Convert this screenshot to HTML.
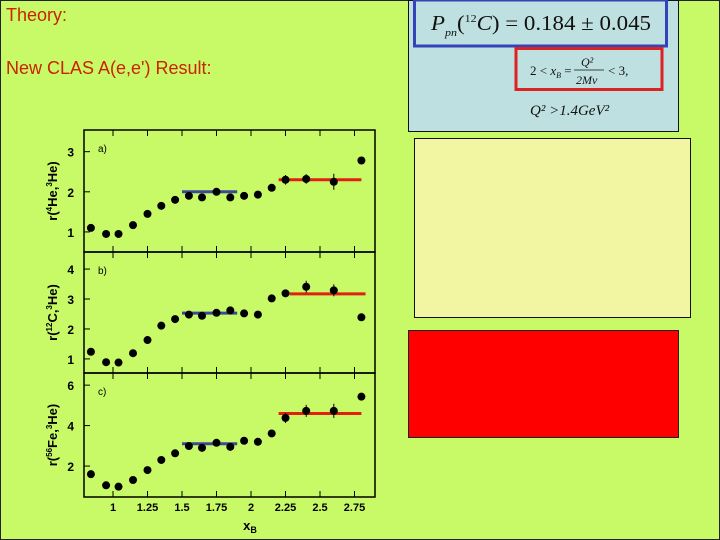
<!DOCTYPE html>
<html><head><meta charset="utf-8"><style>
html,body{margin:0;padding:0}
body{width:720px;height:540px;overflow:hidden;background:#ccff66;font-family:"Liberation Sans",sans-serif}
svg{display:block}
</style></head><body>
<svg width="720" height="540" xmlns="http://www.w3.org/2000/svg">
<rect x="0.5" y="0.5" width="719" height="539" fill="#c8fa68" stroke="#222"/>
<text x="6" y="21" font-size="18" fill="#cc2200" font-family="Liberation Sans, sans-serif">Theory:</text>
<text x="6" y="74" font-size="18" fill="#cc2200" font-family="Liberation Sans, sans-serif">New CLAS A(e,e') Result:</text>
<g>
<rect x="408.5" y="0.5" width="270" height="131" fill="#bfe0e0" stroke="#111"/>
<rect x="414.5" y="0" width="252" height="46" fill="none" stroke="#3344bb" stroke-width="3"/>
<text x="431" y="30" font-size="21" font-family="Liberation Serif, serif" fill="#111" textLength="220" lengthAdjust="spacingAndGlyphs"><tspan font-style="italic">P</tspan><tspan font-size="11" font-style="italic" dy="6">pn</tspan><tspan dy="-6">(</tspan><tspan font-size="11" dy="-8">12</tspan><tspan dy="8" font-style="italic">C</tspan>) = 0.184 ± 0.045</text>
<rect x="516" y="48.5" width="146" height="41" fill="none" stroke="#dd2222" stroke-width="3"/>
<text x="530" y="75" font-size="13" font-family="Liberation Serif, serif" fill="#111">2 &lt; <tspan font-style="italic">x<tspan font-size="8" dy="3">B</tspan></tspan><tspan dy="-3"> =</tspan></text>
<text x="581" y="66" font-size="12" font-family="Liberation Serif, serif" font-style="italic" fill="#111">Q²</text>
<line x1="574" y1="70" x2="604" y2="70" stroke="#111" stroke-width="0.8"/>
<text x="576" y="84" font-size="12" font-family="Liberation Serif, serif" font-style="italic" fill="#111">2Mν</text>
<text x="608" y="75" font-size="13" font-family="Liberation Serif, serif" fill="#111">&lt; 3,</text>
<text x="530" y="115" font-size="15" font-family="Liberation Serif, serif" font-style="italic" fill="#111">Q² &gt;1.4GeV²</text>
</g>
<rect x="414.5" y="138.5" width="276" height="179" fill="#f2f6a2" stroke="#111"/>
<rect x="408.5" y="330.5" width="270" height="107" fill="#ff0000" stroke="#222"/>
<g id="chart"></g>
</svg>
<script>
const xVals=[0.84,0.95,1.04,1.145,1.25,1.35,1.45,1.55,1.645,1.75,1.85,1.95,2.05,2.15,2.25,2.40,2.60,2.80];
const ratioHe=[1.1,0.95,0.95,1.17,1.45,1.65,1.8,1.9,1.86,2.0,1.86,1.9,1.93,2.1,2.3,2.32,2.25,2.78];
const ratioC=[1.24,0.89,0.88,1.19,1.63,2.11,2.33,2.48,2.44,2.54,2.62,2.52,2.48,3.02,3.19,3.41,3.29,2.39];
const ratioFe=[1.6,1.05,0.98,1.31,1.8,2.3,2.63,2.99,2.9,3.15,2.95,3.25,3.2,3.61,4.38,4.73,4.73,5.43];
const errHe=[0,0,0,0,0,0,0,0,0,0,0,0,0,0.06,0.12,0.12,0.2,0];
const errC=[0,0,0,0,0,0,0,0,0,0,0,0,0,0.1,0.12,0.2,0.2,0];
const errFe=[0,0,0,0,0,0,0,0,0,0,0,0,0,0.1,0.25,0.3,0.35,0];
const blueLevels=[2.0,2.53,3.1];
const redLevels=[2.3,3.17,4.6];
const xTickVals=[1,1.25,1.5,1.75,2,2.25,2.5,2.75];
const xTickLabels=["1","1.25","1.5","1.75","2","2.25","2.5","2.75"];
const panelLabels=["a)","b)","c)"];
const yTicks=[[1,2,3],[1,2,3,4],[2,4,6]];

const NS="http://www.w3.org/2000/svg";
const g=document.getElementById('chart');
const X0=84,X1=375;
const xs=v=>113+(v-1)*138;
const panels=[
 {top:130,bot:252,lo:0.5,hi:3.54,data:ratioHe,err:errHe,title:["r(","4","He,","3","He)"],b:[1.5,1.9],r:[2.2,2.8]},
 {top:252,bot:373,lo:0.53,hi:4.57,data:ratioC,err:errC,title:["r(","12","C,","3","He)"],b:[1.5,1.9],r:[2.28,2.83]},
 {top:373,bot:497,lo:0.47,hi:6.6,data:ratioFe,err:errFe,title:["r(","56","Fe,","3","He)"],b:[1.5,1.9],r:[2.2,2.8]}
];
function mk(t,a){const e=document.createElementNS(NS,t);for(const k in a)e.setAttribute(k,a[k]);g.appendChild(e);return e;}
panels.forEach((p,i)=>{
 const ys=v=>p.bot-(v-p.lo)/(p.hi-p.lo)*(p.bot-p.top);
 const fr=mk('rect',{x:X0,y:p.top,width:X1-X0,height:p.bot-p.top,fill:'none',stroke:'#000','stroke-width':1.5});
 
 
 yTicks[i].forEach(v=>{
  const y=ys(v);
  mk('line',{x1:X0,y1:y,x2:X0+6,y2:y,stroke:'#000'});
  const t=mk('text',{x:X0-10,y:y+5,'font-size':12,'font-weight':'bold','text-anchor':'end','font-family':'Liberation Sans, sans-serif'});
  t.textContent=v;
  
  
 });
 xTickVals.forEach(v=>{mk('line',{x1:xs(v),y1:p.bot,x2:xs(v),y2:p.bot-6,stroke:'#000'});mk('line',{x1:xs(v),y1:p.top,x2:xs(v),y2:p.top+6,stroke:'#000'});});
 const pl=mk('text',{x:98,y:p.top+22,'font-size':10,'font-family':'Liberation Sans, sans-serif'});
 pl.textContent=panelLabels[i];
 
 
 const cy=(p.top+p.bot)/2;
 const yt=mk('text',{x:0,y:0,'font-size':13,'font-weight':'bold','text-anchor':'middle','font-family':'Liberation Sans, sans-serif',transform:`translate(57,${cy}) rotate(-90)`});
 yt.innerHTML=`${p.title[0]}<tspan font-size="8" dy="-5">${p.title[1]}</tspan><tspan dy="5">${p.title[2]}</tspan><tspan font-size="8" dy="-5">${p.title[3]}</tspan><tspan dy="5">${p.title[4]}</tspan>`;
 
 
 const bl=mk('line',{x1:xs(p.b[0]),y1:ys(blueLevels[i]),x2:xs(p.b[1]),y2:ys(blueLevels[i]),stroke:'#3a4a99','stroke-width':3});
 
 
 const rl=mk('line',{x1:xs(p.r[0]),y1:ys(redLevels[i]),x2:xs(p.r[1]),y2:ys(redLevels[i]),stroke:'#e02010','stroke-width':3});
 
 
 p.data.forEach((v,j)=>{
  const cx=xs(xVals[j]);
  if(p.err[j]>0){mk('line',{x1:cx,y1:ys(v-p.err[j]),x2:cx,y2:ys(v+p.err[j]),stroke:'#000'});}
  const c=mk('circle',{cx:cx,cy:ys(v),r:4,fill:'#000'});
  
  
 });
});
xTickVals.forEach((v,k)=>{
 const t=mk('text',{x:xs(v),y:511,'font-size':11,'font-weight':'bold','text-anchor':'middle','font-family':'Liberation Sans, sans-serif'});
 t.textContent=xTickLabels[k];
 
 
});
const xt=mk('text',{x:250,y:530,'font-size':13,'font-weight':'bold','text-anchor':'middle','font-family':'Liberation Sans, sans-serif'});
xt.innerHTML='x<tspan font-size="9" dy="3">B</tspan>';


</script>
</body></html>
